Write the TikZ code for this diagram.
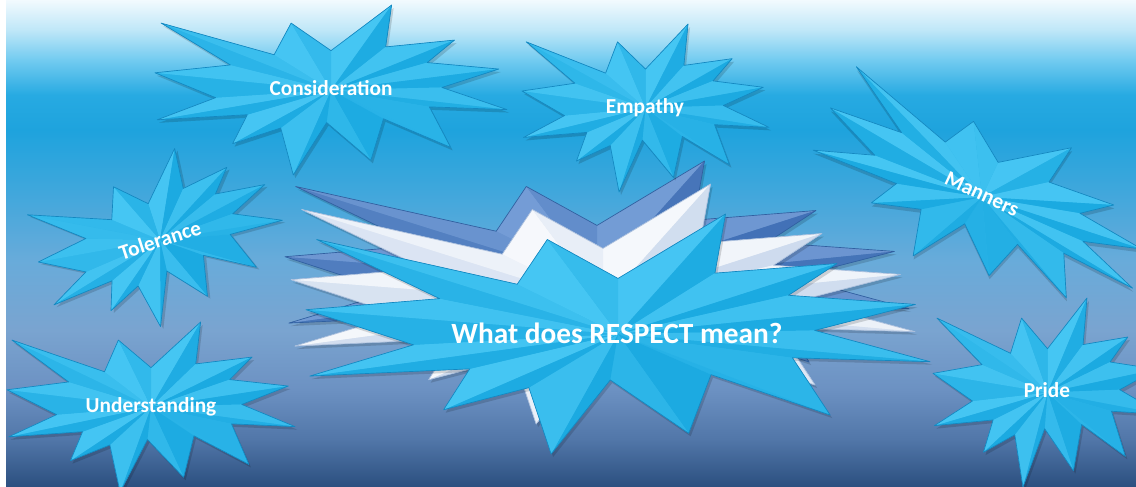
\documentclass[tikz,border=0pt]{standalone}
\usepackage{fontspec}
\setmainfont{Carlito}
\definecolor{bg0}{HTML}{F2FAFE}
\definecolor{bg1}{HTML}{BFE7F8}
\definecolor{bg2}{HTML}{72CBF0}
\definecolor{bg3}{HTML}{27AAE2}
\definecolor{bg4}{HTML}{1EA3DD}
\definecolor{bg5}{HTML}{3FA7DC}
\definecolor{bg6}{HTML}{68ABDA}
\definecolor{bg7}{HTML}{7AA4D0}
\definecolor{bg8}{HTML}{6C91C2}
\definecolor{bg9}{HTML}{5176A8}
\definecolor{bg10}{HTML}{2C5080}
\definecolor{cyL}{HTML}{4FCCF7}
\definecolor{cyD}{HTML}{0FA2DC}
\definecolor{cyO}{HTML}{1487C0}
\definecolor{dkL}{HTML}{7FA6DD}
\definecolor{dkD}{HTML}{3566AE}
\definecolor{dkO}{HTML}{3060A0}
\definecolor{whL}{HTML}{FFFFFF}
\definecolor{whD}{HTML}{C3D3EA}
\definecolor{whO}{HTML}{A9BEDC}
\pgfdeclareverticalshading{bgshade}{100bp}{color(0bp)=(bg10); color(25bp)=(bg10); color(29.73bp)=(bg9); color(34.88bp)=(bg8); color(41.05bp)=(bg7); color(48.25bp)=(bg6); color(55.45bp)=(bg5); color(61.63bp)=(bg4); color(65.23bp)=(bg3); color(68.83bp)=(bg2); color(71.91bp)=(bg1); color(75bp)=(bg0); color(100bp)=(bg0)}
\def\ExU{{0,0.1723,0.1553,0.3509,0.2732,0.4767,0.3151,0.5,0.2795,0.34,0.1491,0.1133,-0.0124,-0.1072,-0.1428,-0.2795,-0.2376,-0.4938,-0.3277,-0.5,-0.2858,-0.4829,-0.1615,-0.1133}}
\def\ExV{{-0.2315,-0.5,-0.2535,-0.2937,-0.1613,-0.1233,-0.015,0.1153,0.0992,0.3377,0.1693,0.4137,0.1914,0.5,0.2235,0.3156,0.1452,0.1753,0.0451,-0.1012,-0.1474,-0.3938,-0.2074,-0.3938}}
\newcommand\ExPoly[1]{\path[#1] (0,-0.2315) -- (0.1723,-0.5) -- (0.1553,-0.2535) -- (0.3509,-0.2937) -- (0.2732,-0.1613) -- (0.4767,-0.1233) -- (0.3151,-0.015) -- (0.5,0.1153) -- (0.2795,0.0992) -- (0.34,0.3377) -- (0.1491,0.1693) -- (0.1133,0.4137) -- (-0.0124,0.1914) -- (-0.1072,0.5) -- (-0.1428,0.2235) -- (-0.2795,0.3156) -- (-0.2376,0.1452) -- (-0.4938,0.1753) -- (-0.3277,0.0451) -- (-0.5,-0.1012) -- (-0.2858,-0.1474) -- (-0.4829,-0.3938) -- (-0.1615,-0.2074) -- (-0.1133,-0.3938) -- cycle;}
% #1 cx, #2 cy, #3 W, #4 H, #5 rotation, #6 light, #7 dark, #8 outline
\newcommand\Explo[8]{%
 \begin{scope}[shift={(#1,#2)}, rotate=#5]
  \begin{scope}[shift={(2,3)}, xscale=#3, yscale=#4]
   \ExPoly{fill=black, fill opacity=0.15}
  \end{scope}
  \begin{scope}[xscale=#3, yscale=#4]
   \ExPoly{fill=#7!50!#6}
   \foreach \i in {0,...,23}{
     \pgfmathtruncatemacro\j{mod(\i+1,24)}
     \pgfmathsetmacro\ua{\ExU[\i]}
     \pgfmathsetmacro\va{\ExV[\i]}
     \pgfmathsetmacro\ub{\ExU[\j]}
     \pgfmathsetmacro\vb{\ExV[\j]}
     \pgfmathsetmacro\ex{((\ub)-(\ua))*(#3)/100}
     \pgfmathsetmacro\ey{((\vb)-(\va))*(#4)/100}
     \pgfmathsetmacro\mx{((\ua)+(\ub))*(#3)/100}
     \pgfmathsetmacro\my{((\va)+(\vb))*(#4)/100}
     \pgfmathsetmacro\sg{((\ey)*(\mx)-(\ex)*(\my)<0) ? -1 : 1}
     \pgfmathsetmacro\nx{(\sg)*(\ey)}
     \pgfmathsetmacro\ny{-1*(\sg)*(\ex)}
     \pgfmathsetmacro\ph{atan2(\ny,\nx)}
     \pgfmathtruncatemacro\p{52+34*cos((\ph)+(#5)-225)}
     \fill[#6!\p!#7] (0,0) -- (\ua,\va) -- (\ub,\vb) -- cycle;
   }
   \ExPoly{draw=#8, line width=0.5pt, line join=round}
  \end{scope}
 \end{scope}}
\tikzset{lbl/.style={text=white, font=\bfseries\fontsize{16}{19}\selectfont, inner sep=0pt}}
\begin{document}
\begin{tikzpicture}[x=0.75pt, y=-0.75pt]
\useasboundingbox (0,0) rectangle (1136,486);
\fill[white] (0,0) rectangle (1136,486);
\shade[shading=bgshade] (6,0) rectangle (1136,486);
% central stacked explosion
\Explo{597}{281}{624}{240}{0}{dkL}{dkD}{dkO}
\Explo{603}{304}{624}{240}{0}{whL}{whD}{whO}
\Explo{618}{334}{624}{240}{0}{cyL}{cyD}{cyO}
% surrounding explosions
\Explo{331}{90}{352}{170}{0}{cyL}{cyD}{cyO}
\Explo{645.5}{108}{247}{168}{0}{cyL}{cyD}{cyO}
\Explo{160}{240}{245}{165}{18}{cyL}{cyD}{cyO}
\Explo{151}{407}{288}{170}{0}{cyL}{cyD}{cyO}
\Explo{982}{197}{350}{165}{-25}{cyL}{cyD}{cyO}
\Explo{1047.5}{392.5}{229}{189}{0}{cyL}{cyD}{cyO}
% labels
\node[lbl, font=\bfseries\fontsize{22}{26}\selectfont] (main) at (617,333) {What does RESPECT mean?};
\node[lbl] (consid) at (331,88) {Consideration};
\node[lbl] (empathy) at (645,108) {Empathy};
\node[lbl, rotate=18] (toler) at (160,240) {Tolerance};
\node[lbl] (underst) at (151,407) {Understanding};
\node[lbl, rotate=-25] (manners) at (982,194) {Manners};
\node[lbl] (pride) at (1047,390) {Pride};
\end{tikzpicture}
\end{document}
